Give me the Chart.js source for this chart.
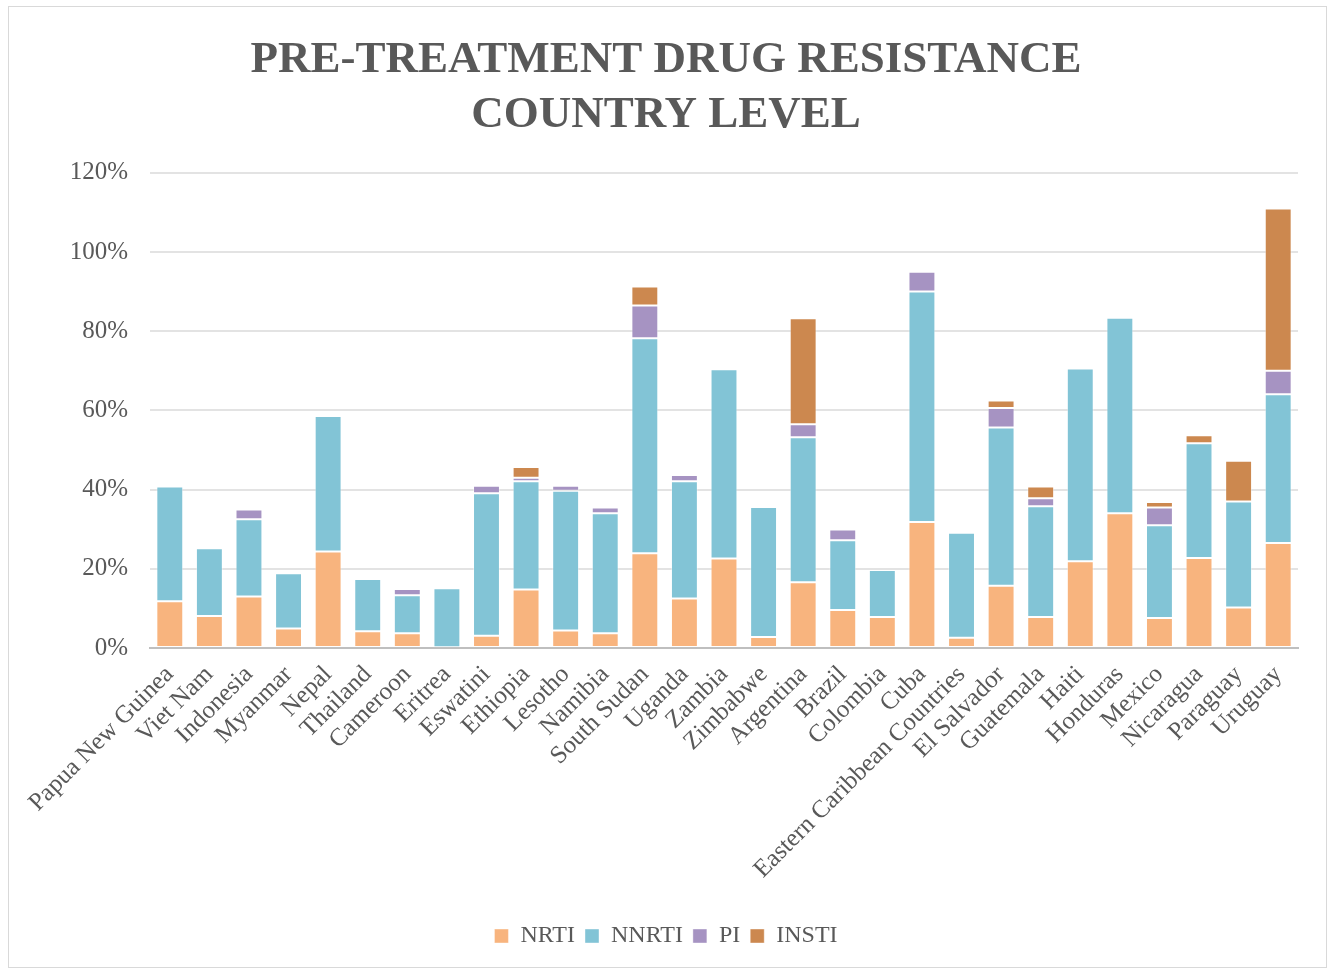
<!DOCTYPE html>
<html>
<head>
<meta charset="utf-8">
<script src="https://cdn.jsdelivr.net/npm/chart.js@4.4.1/dist/chart.umd.min.js"></script>
<style>
  html, body { margin: 0; padding: 0; background: #ffffff; }
  #frame {
    position: absolute; left: 8px; top: 6px; width: 1319px; height: 962px;
    border: 1px solid #d9d9d9; box-sizing: border-box; background: #fff;
  }
  #wrap { position: absolute; left: 0; top: 0; width: 1331px; height: 969px; }
</style>
</head>
<body>
<div id="frame"></div>
<div id="wrap"><canvas id="c" width="1331" height="969"></canvas></div>
<script>
// Countries, in chart order
const countries = [
  "Papua New Guinea", "Viet Nam", "Indonesia", "Myanmar", "Nepal", "Thailand",
  "Cameroon", "Eritrea", "Eswatini", "Ethiopia", "Lesotho", "Namibia",
  "South Sudan", "Uganda", "Zambia", "Zimbabwe", "Argentina", "Brazil",
  "Colombia", "Cuba", "Eastern Caribbean Countries", "El Salvador", "Guatemala",
  "Haiti", "Honduras", "Mexico", "Nicaragua", "Paraguay", "Uruguay"
];

// Resistance prevalence (%) by drug class
const nrti  = [11.8, 8.1, 13.0, 4.9, 24.4, 4.2, 3.7, 0.2, 3.1, 14.8, 4.4, 3.7, 23.9, 12.5, 22.6, 2.8, 16.6, 9.6, 7.8, 31.8, 2.6, 15.7, 7.8, 21.9, 34.0, 7.6, 22.7, 10.2, 26.5];
const nnrti = [29.0, 17.1, 19.5, 14.0, 34.2, 13.2, 9.6, 14.9, 36.0, 27.3, 35.3, 30.3, 54.3, 29.6, 47.8, 32.8, 36.6, 17.6, 11.9, 58.2, 26.5, 40.0, 28.0, 48.7, 49.4, 23.4, 29.0, 26.8, 37.6];
const pi    = [0, 0, 2.5, 0.5, 0, 0, 1.6, 0, 1.9, 0.9, 1.3, 1.5, 8.3, 1.6, 0, 0, 3.3, 2.7, 0, 5.0, 0, 4.9, 2.0, 0, 0, 4.5, 0, 0, 5.9];
const insti = [0, 0, 0, 0, 0, 0, 0, 0, 0, 2.7, 0, 0, 4.8, 0, 0, 0, 26.8, 0, 0, 0, 0, 1.9, 3.0, 0, 0, 1.4, 2.0, 10.3, 41.0];

const seriesNames = ["NRTI", "NNRTI", "PI", "INSTI"];
const yTicks = [0, 20, 40, 60, 80, 100, 120];

const colors = ["#f8b47e", "#82c4d6", "#a693c2", "#cc884f"];
const textGray = "#595959";
const serif = "'Liberation Serif', 'DejaVu Serif', serif";

const datasets = [nrti, nnrti, pi, insti].map((vals, i) => ({
  label: seriesNames[i],
  data: vals,
  backgroundColor: colors[i],
  borderColor: "rgba(255,255,255,0.4)",
  borderWidth: 1,
  borderSkipped: false,
  categoryPercentage: 1.0,
  barPercentage: 0.68
}));

new Chart(document.getElementById("c"), {
  type: "bar",
  data: { labels: countries, datasets },
  options: {
    responsive: false,
    animation: false,
    layout: { padding: { left: 34, right: 33, top: 25, bottom: 11 } },
    plugins: {
      title: {
        display: true,
        text: ["PRE-TREATMENT DRUG RESISTANCE", "COUNTRY LEVEL"],
        color: textGray,
        font: { family: serif, size: 45, weight: "bold", lineHeight: 1.22 },
        padding: { top: 8, bottom: 30 }
      },
      legend: {
        position: "bottom",
        labels: {
          color: textGray,
          font: { family: serif, size: 24 },
          boxWidth: 14, boxHeight: 14,
          padding: 10
        }
      },
      tooltip: { enabled: false }
    },
    scales: {
      x: {
        stacked: true,
        grid: { display: false },
        border: { display: true, color: "#bfbfbf", width: 2 },
        afterFit(axis) { axis.height = 266; },
        ticks: {
          color: textGray,
          font: { family: serif, size: 25 },
          minRotation: 45, maxRotation: 45,
          autoSkip: false,
          padding: 4
        }
      },
      y: {
        stacked: true,
        min: 0, max: 120,
        afterBuildTicks(axis) { axis.ticks = yTicks.map(v => ({ value: v })); },
        afterFit(axis) { axis.width = 116; },
        grid: { color: "#e3e3e3", lineWidth: 2, drawTicks: false },
        border: { display: false },
        ticks: {
          color: textGray,
          font: { family: serif, size: 25 },
          padding: 22,
          callback: v => v + "%"
        }
      }
    }
  }
});
</script>
</body>
</html>
